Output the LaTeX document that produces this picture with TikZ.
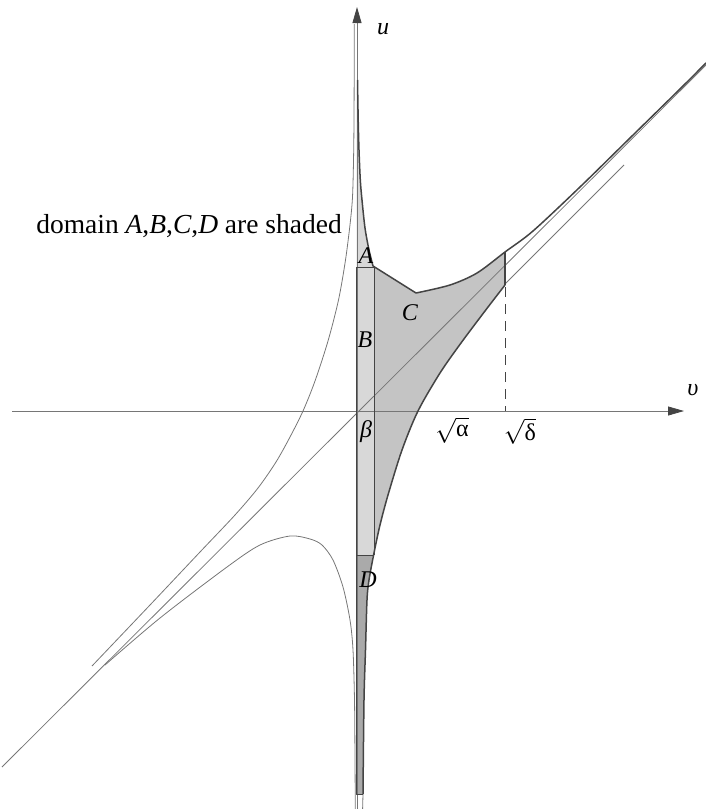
\documentclass[tikz,border=0pt]{standalone}
\usepackage{fontspec}
\setmainfont{Liberation Serif}
\usetikzlibrary{arrows.meta}
\definecolor{lineg}{HTML}{767676}
\definecolor{darkg}{HTML}{444444}
\definecolor{fillab}{HTML}{D8D8D8}
\definecolor{fillc}{HTML}{C4C4C4}
\definecolor{filld}{HTML}{AAAAAA}
\newcommand\myrt[1]{$\sqrt{\hbox{#1}}$}
\begin{document}
\begin{tikzpicture}[x=1pt,y=-1pt,
  thinline/.style={draw=lineg,line width=0.8pt},
  bound/.style={draw=darkg,line width=1.5pt,line join=round},
  axisline/.style={draw=lineg,line width=0.8pt,-{Triangle[length=16pt,width=9pt,color=darkg]}},
  lbl/.style={inner sep=0pt,font=\fontsize{24}{28}\selectfont}]
\useasboundingbox (0,0) rectangle (706,809);
% ---- fills
\fill[fillab] (356.5,267) -- (373,267)
  -- plot[smooth] coordinates {(373,266) (369,250) (365,228) (362,200) (360.3,180) (359,150) (358.2,120) (357.5,95)}
  -- (356.5,95) -- cycle;
\fill[fillab] (356.5,267) rectangle (374,555);
\fill[fillc] (374,267) -- (416,293)
  -- plot[smooth] coordinates {(416,293) (450,285) (477,273) (505,252)}
  -- (505,285)
  -- plot[smooth] coordinates {(505,285) (485,311) (461,343) (440,373) (418,411) (402,450) (388,495) (380,525) (374,553)}
  -- cycle;
\fill[filld] (356.5,555) -- (373,555)
  -- plot[smooth] coordinates {(373,555) (369,580) (367,600) (365.5,650) (364,700) (363,794)}
  -- (356.5,794) -- cycle;
% ---- thin curves
\draw[thinline] (2,767) -- (706,65);
\draw[thinline] (505,284) -- (624,165);
\draw[thinline] plot[smooth,tension=0.5] coordinates {(92,666) (150,605) (200,552) (235,515) (258,488) (276,462) (290,437) (303,411) (315,381) (328,341) (338.5,300) (345.5,260) (350.3,222) (352.6,195) (353.7,150) (354.1,100) (354.3,24)};
\draw[thinline] plot[smooth,tension=0.5] coordinates {(105,665) (160,618) (227,567) (260,545) (290,536) (310,539) (322,545) (333,560) (343,587) (350,620) (353,650) (354.5,700) (355,760) (355.3,809)};
\draw[thinline] (363,794) -- (362.6,809);
% ---- axes
\draw[axisline] (12,411) -- (684,411);
\draw[axisline] (357,809) -- (357,7);
% ---- boundaries
\draw[bound] plot[smooth] coordinates {(357.5,80) (358.2,120) (359,150) (360.3,180) (362,200) (365,228) (369,250) (373,266)}
  -- (416,293)
  -- plot[smooth] coordinates {(416,293) (450,285) (477,273) (505,252) (533,231) (580,187) (630,138) (680,89) (706,63)};
\draw[bound] plot[smooth] coordinates {(505,285) (485,311) (461,343) (440,373) (418,411) (402,450) (388,495) (380,525) (374,553) (369,580) (367,600) (365.5,650) (364,700) (363,794)};
\draw[bound] (505,252) -- (505,285);
\draw[bound,line width=1pt] (374,267) -- (374,555);
\draw[bound,line width=1pt] (356.5,267) -- (374,267);
\draw[bound,line width=1pt] (356.5,555) -- (374,555);
\draw[bound,line width=1pt] (356.5,267) -- (356.5,794) -- (363,794);
\draw[draw=darkg,line width=1pt,dash pattern=on 10pt off 7pt] (505,287) -- (505,411);
% ---- labels
\node[lbl,anchor=base east,font=\fontsize{27.5}{32}\selectfont] (txt) at (342,233) {domain \textit{A},\textit{B},\textit{C},\textit{D} are shaded};
\node[lbl] (la) at (366,256) {\textit{A}};
\node[lbl] (lb) at (365,340) {\textit{B}};
\node[lbl] (lc) at (410,313) {\textit{C}};
\node[lbl] (lbeta) at (366,432) {\textit{β}};
\node[lbl] (ld) at (368,580) {\textit{D}};
\node[lbl] (lalpha) at (452,430) {\myrt{α}};
\node[lbl] (ldelta) at (520,431) {\myrt{δ}};
\node[lbl] (lu) at (383,29) {\textit{u}};
\node[lbl] (lv) at (693,390) {\textit{υ}};
\end{tikzpicture}
\end{document}
